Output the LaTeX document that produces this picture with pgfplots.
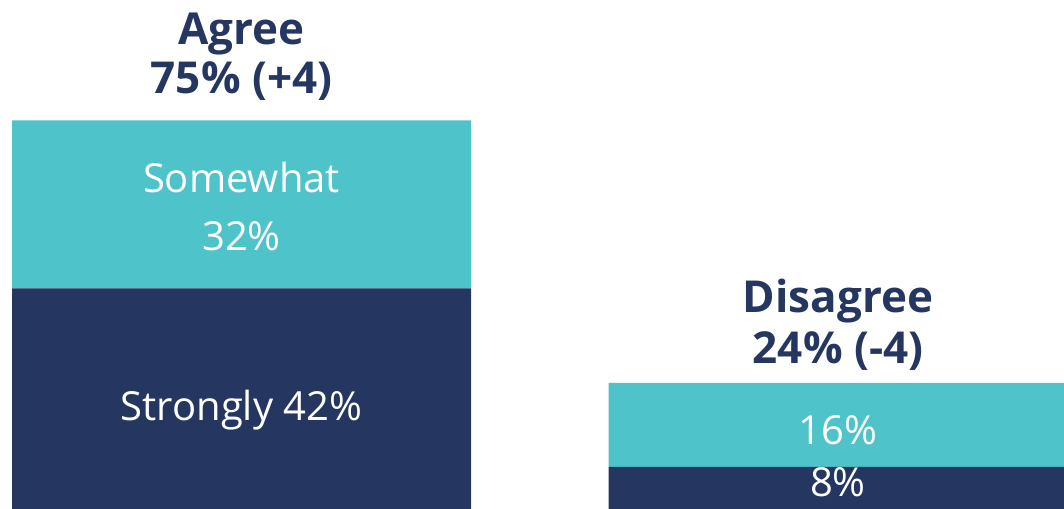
\documentclass[border=0pt]{standalone}
\usepackage{pgfplots}
\pgfplotsset{compat=1.18}
\usepackage{fontspec}
\setmainfont{Open Sans}
\definecolor{navy}{HTML}{253760}
\definecolor{teal}{HTML}{4EC3C9}
\tikzset{
  hdr/.style={anchor=base, text=navy, font=\fontsize{44}{52}\selectfont\bfseries},
  lab/.style={anchor=base, text=white, font=\fontsize{40}{48}\selectfont},
}
\begin{document}
\begin{tikzpicture}
\begin{axis}[
  scale only axis, width=1064pt, height=509pt,
  xmin=0, xmax=1064, ymin=0, ymax=96.95,
  hide axis, clip=true,
  ybar stacked, bar width=459,
]
\addplot[fill=navy, draw=none] coordinates {(241.5,42) (838,8)};
\addplot[fill=teal, draw=none] coordinates {(241.5,32) (838,16)};
\path (rel axis cs:0,0) rectangle (rel axis cs:1,1);
\coordinate (h1) at (axis cs:241.5,88.38);
\coordinate (h2) at (axis cs:241.5,79.05);
\coordinate (h3) at (axis cs:838,37.52);
\coordinate (h4) at (axis cs:838,27.62);
\coordinate (l1) at (axis cs:241.5,60.19);
\coordinate (l2) at (axis cs:241.5,49.33);
\coordinate (l3) at (axis cs:241.5,16.95);
\coordinate (l4) at (axis cs:838,12.19);
\coordinate (l5) at (axis cs:838,2.29);
\end{axis}
\node[hdr] at (h1) {Agree};
\node[hdr] at (h2) {75\% (+4)};
\node[hdr] at (h3) {Disagree};
\node[hdr] at (h4) {24\% (-4)};
\node[lab] at (l1) {Somewhat};
\node[lab] at (l2) {32\%};
\node[lab] at (l3) {Strongly 42\%};
\node[lab] at (l4) {16\%};
\node[lab] at (l5) {8\%};
\end{tikzpicture}
\end{document}
